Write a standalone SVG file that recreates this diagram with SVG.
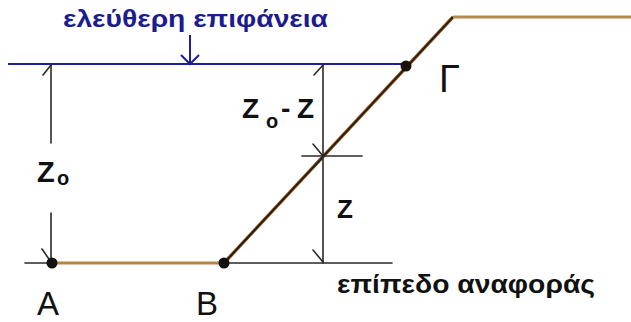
<svg xmlns="http://www.w3.org/2000/svg" width="631" height="322" viewBox="0 0 631 322">
<style>
.ln{stroke:#2a2a2a;stroke-width:1.6;fill:none;stroke-linecap:round}
.bl{stroke:#1f1f9a;stroke-width:2;fill:none}
.lbl{font-family:"Liberation Sans",Arial,sans-serif;fill:#111}
.b{font-weight:bold}
.dot{fill:#111}
</style>
<rect width="631" height="322" fill="#ffffff"/>
<g id="connectors">
  <line class="ln" x1="25" y1="263" x2="392" y2="263"/>
  <line x1="52" y1="263" x2="224" y2="263" stroke="#b8843f" stroke-width="3"/>
  <line x1="224" y1="263" x2="453" y2="17" stroke="#8a5a28" stroke-width="3.4"/>
  <line x1="224" y1="263" x2="453" y2="17" stroke="#2a1808" stroke-width="1.8"/>
  <line x1="453" y1="17" x2="631" y2="17" stroke="#b38a52" stroke-width="3"/>
  <line class="bl" x1="8" y1="64" x2="406" y2="64"/>
  <line class="bl" x1="190" y1="35" x2="190" y2="64"/>
  <polyline class="bl" points="181,55 190,64 199,55"/>
  <line class="ln" x1="51" y1="65" x2="51" y2="143"/>
  <line class="ln" x1="51" y1="213" x2="51" y2="263"/>
  <line class="ln" x1="43" y1="75" x2="51" y2="65"/>
  <line class="ln" x1="42" y1="249" x2="51" y2="262"/>
  <line class="ln" x1="323" y1="65" x2="323" y2="263"/>
  <line class="ln" x1="314" y1="75" x2="323" y2="65"/>
  <line class="ln" x1="313" y1="144" x2="323" y2="156"/>
  <line class="ln" x1="314" y1="167" x2="323" y2="157"/>
  <line class="ln" x1="313" y1="250" x2="323" y2="262"/>
  <line class="ln" x1="302" y1="156" x2="362" y2="156"/>
</g>
<g id="point-A">
  <circle class="dot" cx="52" cy="263" r="5.5"/>
  <text class="lbl" x="37" y="315" font-size="33">A</text>
</g>
<g id="point-B">
  <circle class="dot" cx="224" cy="263" r="5.5"/>
  <text class="lbl" x="196" y="315" font-size="33">B</text>
</g>
<g id="point-G">
  <circle cx="406" cy="66" r="5.5" fill="#1a1208"/>
  <text class="lbl" x="439" y="92" font-size="38">Γ</text>
</g>
<g id="label-free-surface">
  <text x="63" y="27" font-family="'Liberation Sans',Arial,sans-serif" font-weight="bold" font-size="23" fill="#1c1c8e" textLength="265" lengthAdjust="spacingAndGlyphs">ελεύθερη επιφάνεια</text>
</g>
<g id="label-reference-plane">
  <text class="lbl b" x="337" y="293" font-size="26" textLength="258" lengthAdjust="spacingAndGlyphs">επίπεδο αναφοράς</text>
</g>
<g id="label-z0">
  <text class="lbl b" font-size="29"><tspan x="37" y="182">Z</tspan><tspan x="57" y="185" font-size="20">o</tspan></text>
</g>
<g id="label-z0-z">
  <text class="lbl b" font-size="28"><tspan x="242" y="118">Z</tspan><tspan x="266" y="128" font-size="20">o</tspan><tspan x="281" y="118">-</tspan><tspan x="297" y="118">Z</tspan></text>
</g>
<g id="label-z">
  <text class="lbl b" x="337" y="218" font-size="26">Z</text>
</g>
</svg>
